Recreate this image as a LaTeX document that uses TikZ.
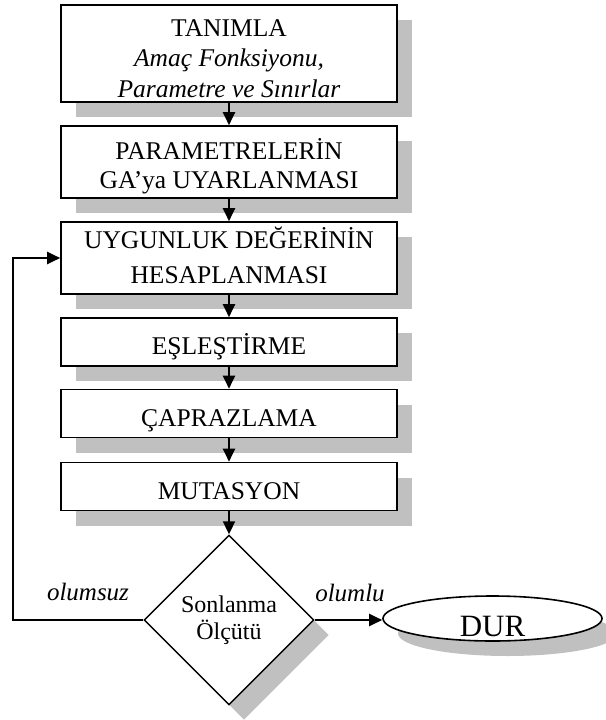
\documentclass[tikz,border=0pt]{standalone}
\usepackage{fontspec}
\setmainfont{Liberation Serif}
\usetikzlibrary{arrows.meta}
\usetikzlibrary{shapes.geometric}
\usetikzlibrary{shadows}
\definecolor{shadowgray}{RGB}{192,192,192}
\tikzset{
  golge/.style={drop shadow={shadow xshift=15pt, shadow yshift=-15pt, fill=shadowgray, opacity=1}},
  stepbox/.style={draw, line width=1.6pt, fill=white, golge, minimum width=336pt, align=center, inner sep=0pt, text depth=0pt, font=\fontsize{25.5}{30}\selectfont},
  onebox/.style={stepbox, minimum height=48pt, text height=25pt},
  decision/.style={diamond, draw, line width=1.4pt, fill=white, golge, minimum width=170pt, minimum height=170pt, inner sep=0pt, align=center, font=\fontsize{24}{27}\selectfont},
  stopnode/.style={ellipse, draw, line width=1.6pt, fill=white, golge, minimum width=219pt, minimum height=45pt, inner xsep=0pt, inner ysep=-6pt, text height=35pt, text depth=0pt, font=\fontsize{31}{34}\selectfont},
  etiket/.style={font=\fontsize{25}{28}\selectfont\itshape, inner sep=0pt, anchor=base},
  flow/.style={line width=2pt, -{Triangle[length=13pt,width=12pt]}},
}
\begin{document}
\begin{tikzpicture}[x=1pt,y=-1pt]
\useasboundingbox (0,0) rectangle (605,720);
% kutular
\node[stepbox, minimum height=97pt, text height=87pt, font=\fontsize{25.5}{30.5}\selectfont] (tanimla) at (229,53.5) {TANIMLA\\\textit{Amaç Fonksiyonu,}\\\textit{Parametre ve Sınırlar}};
\node[stepbox, minimum height=72pt, text height=52pt, font=\fontsize{25.5}{29}\selectfont] (uyarla) at (229,162) {PARAMETRELERİN\\GA’ya UYARLANMASI};
\node[stepbox, minimum height=72pt, text height=50pt, font=\fontsize{25.5}{35}\selectfont] (uygunluk) at (229,258) {UYGUNLUK DEĞERİNİN\\HESAPLANMASI};
\node[onebox] (esles) at (229,342) {EŞLEŞTİRME};
\node[onebox] (caprazla) at (229,413.5) {ÇAPRAZLAMA};
\node[onebox] (mutasyon) at (229,486.5) {MUTASYON};
\node[decision] (olcut) at (229,620) {Sonlanma\\Ölçütü};
\node[stopnode] (dur) at (492.5,618.5) {DUR};
% oklar
\foreach \a/\b in {tanimla/uyarla, uyarla/uygunluk, uygunluk/esles, esles/caprazla, caprazla/mutasyon, mutasyon/olcut}
    \draw[flow] (\a.south) -- (\b.north);
\coordinate (donus) at (13,620);
\draw[flow] (olcut.west) -- (donus) |- (uygunluk.west);
\draw[flow] (olcut.east) -- (olcut.east -| dur.west);
\node[etiket] (olumsuz) at (88,600) {olumsuz};
\node[etiket] (olumlu) at (350,601) {olumlu};
\end{tikzpicture}
\end{document}
